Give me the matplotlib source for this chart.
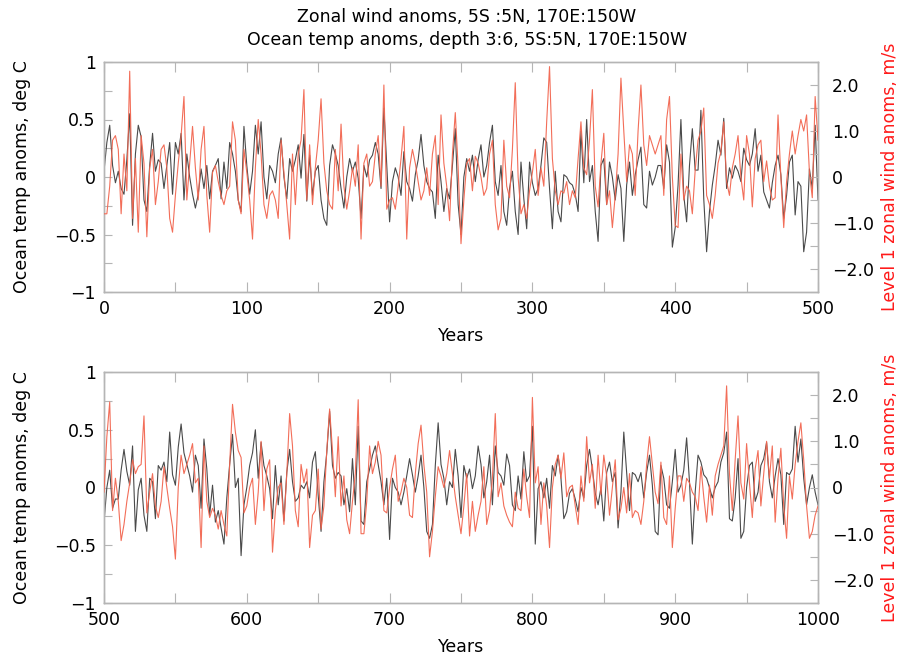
import matplotlib
matplotlib.use('Agg')
import matplotlib.pyplot as plt
import numpy as np
from matplotlib.ticker import MultipleLocator, FixedLocator, FixedFormatter

plt.rcParams['font.family'] = ['DejaVu Sans']

# ---------------- data ----------------
title_lines = ["Zonal wind anoms, 5S :5N, 170E:150W",
               "Ocean temp anoms, depth 3:6, 5S:5N, 170E:150W"]
left_label = "Ocean temp anoms, deg C"
right_label = "Level 1 zonal wind anoms, m/s"
x_label = "Years"

years_top = list(range(0, 501, 2))
years_bot = list(range(500, 1001, 2))

temp_top = [
    0.05, 0.3, 0.45, 0.1, -0.05, 0.05, -0.1, -0.15, 0.15, 0.55,
    -0.42, 0.2, 0.45, 0.35, -0.2, -0.3, 0.1, 0.38, 0.05, 0.15,
    0.12, -0.1, 0.1, 0.3, -0.15, 0.3, 0.2, 0.38, -0.2, 0.2,
    0.0, -0.15, -0.27, -0.15, 0.07, -0.1, 0.1, -0.19, 0.05, 0.1,
    0.16, -0.19, 0.13, -0.1, 0.3, 0.2, 0.05, -0.2, -0.3, 0.44,
    0.1, -0.15, 0.05, 0.45, 0.2, 0.48, 0.0, -0.19, 0.1, 0.05,
    -0.05, 0.2, 0.34, 0.0, -0.19, 0.16, 0.05, 0.15, 0.28, -0.01,
    0.37, -0.21, 0.19, -0.16, 0.05, 0.1, -0.2, -0.36, -0.42, 0.1,
    0.28, 0.2, 0.1, -0.1, -0.27, 0.0, 0.16, 0.05, 0.13, -0.01,
    -0.36, 0.1, 0.0, 0.15, 0.19, 0.3, 0.2, -0.1, 0.6, 0.1,
    -0.39, -0.04, 0.08, 0.0, -0.16, 0.22, -0.04, -0.1, -0.21, 0.02,
    0.15, 0.37, 0.1, -0.04, -0.1, -0.13, -0.36, 0.19, -0.04, -0.3,
    -0.1, -0.19, 0.1, 0.42, -0.24, -0.5, 0.0, 0.16, 0.05, 0.19,
    -0.04, 0.15, 0.28, 0.0, 0.1, 0.3, 0.45, -0.04, -0.16, 0.1,
    -0.3, -0.42, -0.1, 0.05, -0.3, -0.5, 0.13, -0.19, -0.45, 0.13,
    -0.05, -0.16, -0.1, 0.1, 0.34, 0.3, -0.1, -0.45, 0.05, -0.3,
    -0.39, 0.02, 0.0, -0.05, -0.07, -0.15, -0.3, 0.4, -0.05, 0.5,
    -0.04, 0.1, -0.3, -0.56, 0.1, 0.16, -0.24, 0.13, 0.0, -0.2,
    0.02, -0.1, -0.56, -0.07, 0.13, -0.16, 0.02, 0.15, 0.26, -0.24,
    -0.27, 0.05, -0.07, 0.0, 0.1, 0.1, -0.1, 0.28, 0.13, -0.61,
    -0.44, -0.07, 0.5, -0.16, -0.39, 0.1, 0.42, 0.06, 0.06, 0.58,
    -0.19, -0.65, -0.3, -0.07, 0.1, 0.32, 0.19, 0.51, -0.1, 0.08,
    -0.01, 0.1, 0.05, -0.04, 0.25, 0.15, 0.1, 0.2, 0.42, 0.05,
    0.19, -0.13, -0.2, -0.27, -0.05, 0.1, 0.19, 0.02, -0.36, -0.16,
    0.13, 0.19, -0.33, -0.04, -0.08, -0.65, -0.48, 0.07, -0.1, 0.45,
    -0.2]

wind_top = [
    -0.8, -0.8, -0.2, 0.8, 0.9, 0.6, -0.8, 0.5, -0.3, 2.3,
    -0.9, 0.4, -1.2, 0.9, 0.3, -1.3, 0.2, 0.6, -0.6, -0.1,
    0.6, 0.7, 0.2, -0.9, -1.2, -0.4, 0.3, 0.9, 1.75, -0.5,
    0.3, 1.1, 0.2, -0.5, 0.6, 1.1, -0.4, -1.2, 0.1, 0.25,
    -0.1, -0.4, -0.6, -0.3, -0.2, 1.2, 0.8, -0.5, -0.8, 0.6,
    0.1, -0.5, -1.35, 0.2, 1.25, 0.5, -0.6, -0.9, -0.4, -0.3,
    -0.5, -0.9, 0.8, 0.1, -0.6, -1.35, 0.5, -0.6, 0.5, 0.8,
    1.9, -0.5, 0.7, -0.6, 0.2, 0.8, 1.7, 0.3, -0.3, -0.6,
    -0.7, 0.6, -0.3, 1.15, -0.2, -0.7, -0.3, 0.2, -0.2, 0.7,
    -1.35, 0.3, 0.5, -0.2, -0.1, 0.5, 0.9, -0.2, 2.0, -0.7,
    -0.5, -0.45, -0.7, -0.2, 0.4, 1.1, -1.35, 0.2, 0.6, 0.3,
    -0.1, -0.5, -0.3, 0.2, -0.4, 0.5, 0.9, -0.6, 1.35, 0.3,
    -0.2, -0.95, 0.5, 1.4, 0.2, -1.45, -0.5, 0.3, 0.4, -0.3,
    0.45, 0.3, 0.0, -0.4, -0.25, 0.5, 0.8, -0.6, -1.15, -0.9,
    0.8, -0.2, -0.45, 0.6, 2.05, 0.0, -0.8, -0.6, -0.9, -0.3,
    0.1, 0.6, -0.4, 0.2, -0.2, 1.2, 2.4, 0.4, -0.3, -0.6,
    -0.3, -0.35, -0.1, -0.6, -0.3, -0.45, 0.4, 1.2, 0.2, 0.05,
    0.8, 1.9, -0.2, -0.65, 0.3, 0.95, -0.6, -0.3, -1.1, -0.4,
    0.5, 2.15, 1.0, -0.1, 0.7, 0.5, -0.4, 1.0, 2.0, 0.7,
    0.25, 0.9, 0.7, 0.5, 0.7, 0.9, -0.4, 1.25, 1.75, 0.0,
    -1.05, -1.1, 0.5, -0.5, -0.2, -0.3, -0.8, 0.15, 0.8, 1.0,
    1.5, -0.4, -0.6, -0.9, -0.4, 0.3, 0.55, 1.2, -0.1, -0.4,
    0.2, 0.5, 0.9, 0.0, -0.5, 0.9, 0.5, -0.65, 0.4, 0.7,
    0.8, -0.1, 0.35, -0.2, -0.5, -0.45, 1.35, 0.0, -1.1, -0.1,
    0.5, 1.0, 0.5, 0.9, 1.25, 1.0, 1.35, 0.1, -0.45, 1.75,
    0.8]

temp_bot = [
    -0.3, 0.0, 0.15, -0.18, -0.1, -0.1, 0.15, 0.33, 0.14, 0.02,
    0.36, -0.38, -0.02, 0.08, -0.24, -0.38, 0.08, 0.05, -0.27, 0.19,
    0.15, 0.22, 0.05, 0.48, 0.11, 0.02, 0.35, 0.55, 0.3, 0.2,
    0.1, -0.04, 0.28, 0.19, -0.18, 0.42, 0.16, -0.24, 0.02, -0.3,
    -0.2, -0.35, -0.49, -0.09, 0.2, 0.46, 0.0, 0.08, -0.59, -0.15,
    0.0, 0.19, 0.3, 0.5, 0.08, 0.39, 0.19, 0.1, -0.01, -0.27,
    0.19, -0.15, 0.1, -0.29, 0.13, 0.33, 0.05, -0.12, -0.09, 0.02,
    -0.01, 0.05, -0.09, 0.22, 0.31, -0.07, -0.38, 0.05, 0.3, 0.66,
    0.19, 0.08, 0.13, 0.1, -0.15, -0.01, -0.21, 0.25, -0.15, 0.53,
    -0.29, -0.32, 0.05, 0.16, 0.28, 0.36, 0.2, 0.05, -0.15, 0.08,
    -0.45, 0.08, 0.0, -0.04, -0.15, -0.04, 0.1, 0.25, 0.11, -0.04,
    0.1, 0.28, 0.0, -0.38, -0.44, -0.32, 0.19, 0.56, 0.2, 0.08,
    -0.15, 0.05, 0.0, 0.33, 0.1, -0.26, 0.19, 0.08, 0.16, -0.01,
    0.1, 0.36, 0.2, -0.09, 0.05, 0.28, -0.15, 0.36, 0.13, 0.1,
    0.02, 0.29, 0.19, -0.15, -0.2, 0.1, -0.1, 0.31, 0.05, 0.1,
    0.53, -0.49, -0.01, 0.05, -0.09, 0.08, -0.18, 0.19, 0.1, 0.28,
    0.08, -0.27, -0.21, -0.05, -0.01, -0.1, -0.21, 0.0, -0.09, 0.19,
    0.33, 0.16, -0.05, -0.15, 0.0, -0.29, 0.13, 0.22, 0.05, 0.13,
    -0.35, -0.04, 0.48, 0.13, -0.2, 0.13, 0.11, 0.05, 0.13, -0.09,
    0.13, 0.28, 0.02, -0.38, -0.41, 0.19, 0.08, -0.15, -0.18, 0.05,
    0.33, -0.04, 0.02, 0.15, 0.43, 0.05, -0.49, -0.04, 0.28, 0.22,
    0.11, 0.08, 0.0, -0.09, 0.0, 0.05, 0.22, 0.3, 0.48, -0.27,
    -0.29, -0.09, 0.25, -0.44, -0.38, 0.0, 0.19, 0.22, -0.12, -0.04,
    0.19, 0.25, 0.39, 0.05, -0.09, 0.1, 0.25, 0.11, -0.32, 0.13,
    0.11, 0.16, 0.53, 0.22, 0.42, 0.08, -0.15, 0.0, 0.11, -0.04,
    -0.15]

wind_bot = [
    -0.1, 1.1, 1.85, -0.5, 0.2, -0.3, -1.15, -0.8, -0.3, 0.1,
    0.6, 0.3, 0.45, 0.5, 1.55, -0.55, -0.1, 0.3, -0.4, -0.65,
    -0.3, 0.45, 0.0, -0.45, -0.85, -1.55, 0.0, 0.7, 0.3, 0.5,
    0.7, 0.95, 0.1, 0.2, -1.3, 0.9, -0.3, -0.65, -0.45, -0.6,
    -0.9, -0.5, -0.8, -1.05, 0.5, 1.8, 1.2, 0.8, 0.65, -0.55,
    -0.4, 0.0, 0.2, -0.8, -0.1, 1.0, -0.5, 0.4, 0.6, -1.4,
    -0.5, 0.0, 0.1, -0.8, 0.3, 1.6, 0.9, -0.5, -0.85, 0.5,
    0.1, 0.4, -1.3, -0.6, -0.5, 0.4, -0.9, -0.4, 0.8, 1.7,
    0.8, -0.2, 1.1, -0.4, 0.25, -0.7, -1.0, -0.3, 0.3, 1.9,
    -1.0, -1.0, -0.3, 0.9, 0.3, 0.55, 1.0, 0.7, -0.5, -0.55,
    0.0, 0.4, 0.7, -0.3, -0.1, 0.2, 0.0, -0.6, -0.65, 0.3,
    0.95, 1.35, 0.5, -0.1, -1.5, -0.95, -0.2, 0.45, 0.25, 0.0,
    0.3, 0.8, 0.3, -0.2, -0.6, -1.0, -0.4, 0.3, -1.05, -0.3,
    -0.95, -0.6, -0.3, 0.45, -0.8, -0.5, 0.2, 1.6, -0.2, 0.1,
    -0.4, -0.6, -0.75, -0.85, -0.1, -0.45, -0.5, 0.4, -0.2, -0.65,
    1.95, 0.1, 0.45, -0.8, 0.1, -0.4, -1.3, 0.0, 0.5, 0.7,
    0.2, 0.75, -0.2, 0.0, 0.05, -0.4, -0.8, 0.25, -0.3, 1.1,
    0.1, 0.5, -0.45, 0.7, -0.15, 0.7, 0.25, -0.6, 0.0, 0.6,
    -0.7, -0.45, 0.0, -0.55, 0.3, -0.65, -0.5, -0.55, -0.8, -0.3,
    0.5, 1.1, 0.5, -0.1, -0.35, 0.55, -0.65, -0.8, 0.25, -1.3,
    -0.45, 0.25, 0.25, -0.3, 0.2, 0.1, -0.1, -0.2, -0.5, 0.45,
    -0.2, -0.75, 0.05, -0.6, 0.25, 0.5, 0.7, 0.9, 2.2, 0.3,
    -0.5, 0.6, 1.55, 0.1, -0.25, 0.95, 0.1, -0.65, 0.4, 0.8,
    -0.4, 0.3, 1.0, 0.2, 0.9, -0.75, 0.2, 0.85, -0.4, -1.1,
    0.25, -0.25, 0.5, 1.0, 1.4, 0.6, -0.4, -1.1, -0.95, -0.6,
    -0.4]

left_ticks = [-1, -0.5, 0, 0.5, 1]
left_ticklabels = ['\u22121', '\u22120.5', '0', '0.5', '1']
right_ticks = [-2, -1, 0, 1, 2]
right_ticklabels = ['\u22122.0', '\u22121.0', '0', '1.0', '2.0']

# ---------------- styling ----------------
FS = 12.5
GRAY_LINE = '#4a4a4a'
RED_LINE = '#f26650'
SPINE = '#b5b5b5'
RED_TXT = '#ff1a1a'

fig = plt.figure(figsize=(9.04, 6.56), dpi=100)
W, H = 904, 656

def make_panel(top_px, bot_px, years, temp, wind):
    left_px, right_px = 104, 818
    ax = fig.add_axes([left_px / W, 1 - bot_px / H,
                       (right_px - left_px) / W, (bot_px - top_px) / H])
    ax.plot(years, temp, color=GRAY_LINE, lw=0.8, zorder=2)
    ax.set_xlim(years[0], years[-1])
    ax.set_ylim(-1, 1)
    ax.yaxis.set_major_locator(FixedLocator(left_ticks))
    ax.yaxis.set_major_formatter(FixedFormatter(left_ticklabels))
    ax.yaxis.set_minor_locator(MultipleLocator(0.25))
    ax.xaxis.set_major_locator(MultipleLocator(100))
    ax.xaxis.set_minor_locator(MultipleLocator(50))
    ax.tick_params(axis='both', which='both', direction='in', color=SPINE,
                   labelsize=FS, width=0.8)
    ax.tick_params(axis='x', which='both', top=True)
    ax.tick_params(axis='x', which='major', length=7, pad=6)
    ax.tick_params(axis='x', which='minor', length=7)
    ax.tick_params(axis='y', which='both', right=False, length=6, pad=6)
    for s in ax.spines.values():
        s.set_color(SPINE)
        s.set_linewidth(1.0)
    ax.set_ylabel(left_label, fontsize=FS, labelpad=16)
    ax.set_xlabel(x_label, fontsize=FS, labelpad=6)

    ax2 = ax.twinx()
    ax2.plot(years, wind, color=RED_LINE, lw=0.8, alpha=0.95, zorder=3)
    ax2.set_ylim(-2.5, 2.5)
    ax2.yaxis.set_major_locator(FixedLocator(right_ticks))
    ax2.yaxis.set_major_formatter(FixedFormatter(right_ticklabels))
    ax2.yaxis.set_minor_locator(MultipleLocator(0.5))
    ax2.tick_params(axis='y', which='both', direction='in', color=SPINE,
                    labelsize=FS, length=6, width=0.8, pad=10)
    for s in ax2.spines.values():
        s.set_color(SPINE)
        s.set_linewidth(1.0)
    ax2.set_ylabel(right_label, fontsize=FS, color=RED_TXT, labelpad=5)
    return ax, ax2

make_panel(62, 292, years_top, temp_top, wind_top)
make_panel(372, 603, years_bot, temp_bot, wind_bot)

fig.text(467 / W, 1 - 17 / H, title_lines[0], ha='center', va='center', fontsize=FS)
fig.text(467 / W, 1 - 40 / H, title_lines[1], ha='center', va='center', fontsize=FS)

fig.savefig('out.png', dpi=100)
